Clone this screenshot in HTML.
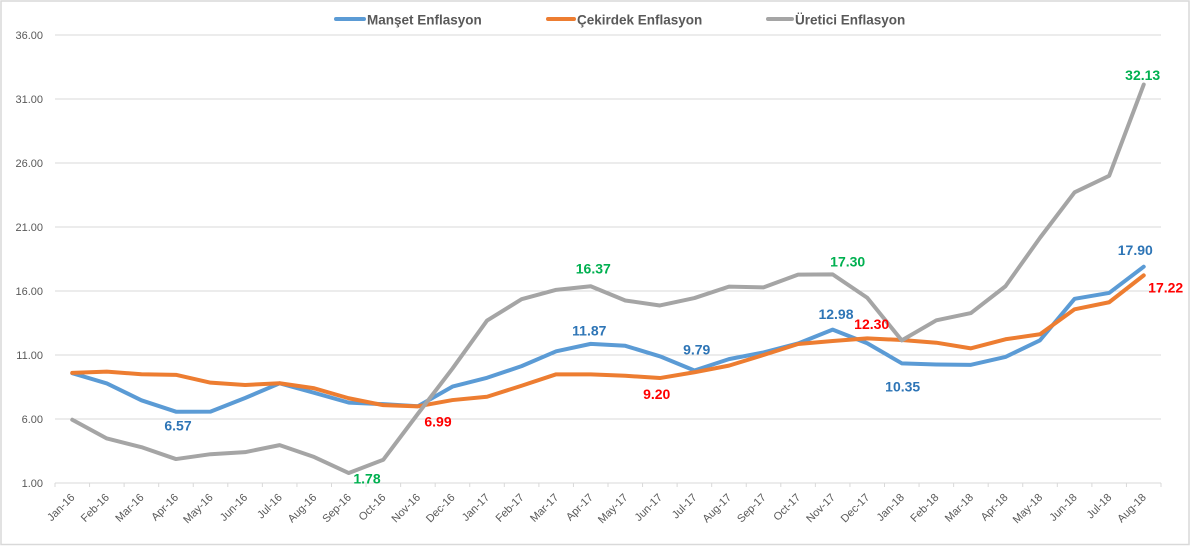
<!DOCTYPE html>
<html>
<head>
<meta charset="utf-8">
<style>
html,body{margin:0;padding:0;background:#fff;}
svg{display:block;}
text{font-family:"Liberation Sans",Arial,sans-serif;}
.ax{font-size:11px;fill:#595959;}
.lg{font-size:13.5px;font-weight:bold;fill:#595959;}
.dl{font-size:14px;font-weight:bold;text-anchor:middle;}
</style>
</head>
<body>
<svg width="1200" height="557" viewBox="0 0 1200 557" xmlns="http://www.w3.org/2000/svg">
<rect x="0" y="0" width="1200" height="557" fill="#fff"/>
<rect x="1" y="1" width="1188" height="543.5" fill="#fff" stroke="#d9d9d9" stroke-width="1.5"/>

<!-- gridlines -->
<g stroke="#d9d9d9" stroke-width="1">
<line x1="55" y1="35" x2="1161" y2="35"/>
<line x1="55" y1="99" x2="1161" y2="99"/>
<line x1="55" y1="163" x2="1161" y2="163"/>
<line x1="55" y1="227" x2="1161" y2="227"/>
<line x1="55" y1="291" x2="1161" y2="291"/>
<line x1="55" y1="355" x2="1161" y2="355"/>
<line x1="55" y1="419" x2="1161" y2="419"/>
<line x1="55" y1="483" x2="1161" y2="483"/>
</g>
<path stroke="#d9d9d9" stroke-width="1" fill="none" d="M55 483V487M89.56 483V487M124.13 483V487M158.69 483V487M193.25 483V487M227.81 483V487M262.38 483V487M296.94 483V487M331.5 483V487M366.06 483V487M400.63 483V487M435.19 483V487M469.75 483V487M504.31 483V487M538.88 483V487M573.44 483V487M608 483V487M642.56 483V487M677.13 483V487M711.69 483V487M746.25 483V487M780.81 483V487M815.38 483V487M849.94 483V487M884.5 483V487M919.06 483V487M953.63 483V487M988.19 483V487M1022.75 483V487M1057.31 483V487M1091.88 483V487M1126.44 483V487M1161 483V487"/>

<!-- y labels -->
<g class="ax" text-anchor="end">
<text x="43" y="39">36.00</text>
<text x="43" y="103">31.00</text>
<text x="43" y="167">26.00</text>
<text x="43" y="231">21.00</text>
<text x="43" y="295">16.00</text>
<text x="43" y="359">11.00</text>
<text x="43" y="423">6.00</text>
<text x="43" y="487">1.00</text>
</g>

<!-- x labels -->
<g class="ax" text-anchor="end">
<text transform="translate(75.28,498) rotate(-45)">Jan-16</text>
<text transform="translate(109.84,498) rotate(-45)">Feb-16</text>
<text transform="translate(144.41,498) rotate(-45)">Mar-16</text>
<text transform="translate(178.97,498) rotate(-45)">Apr-16</text>
<text transform="translate(213.53,498) rotate(-45)">May-16</text>
<text transform="translate(248.09,498) rotate(-45)">Jun-16</text>
<text transform="translate(282.66,498) rotate(-45)">Jul-16</text>
<text transform="translate(317.22,498) rotate(-45)">Aug-16</text>
<text transform="translate(351.78,498) rotate(-45)">Sep-16</text>
<text transform="translate(386.34,498) rotate(-45)">Oct-16</text>
<text transform="translate(420.91,498) rotate(-45)">Nov-16</text>
<text transform="translate(455.47,498) rotate(-45)">Dec-16</text>
<text transform="translate(490.03,498) rotate(-45)">Jan-17</text>
<text transform="translate(524.59,498) rotate(-45)">Feb-17</text>
<text transform="translate(559.16,498) rotate(-45)">Mar-17</text>
<text transform="translate(593.72,498) rotate(-45)">Apr-17</text>
<text transform="translate(628.28,498) rotate(-45)">May-17</text>
<text transform="translate(662.84,498) rotate(-45)">Jun-17</text>
<text transform="translate(697.41,498) rotate(-45)">Jul-17</text>
<text transform="translate(731.97,498) rotate(-45)">Aug-17</text>
<text transform="translate(766.53,498) rotate(-45)">Sep-17</text>
<text transform="translate(801.09,498) rotate(-45)">Oct-17</text>
<text transform="translate(835.66,498) rotate(-45)">Nov-17</text>
<text transform="translate(870.22,498) rotate(-45)">Dec-17</text>
<text transform="translate(904.78,498) rotate(-45)">Jan-18</text>
<text transform="translate(939.34,498) rotate(-45)">Feb-18</text>
<text transform="translate(973.91,498) rotate(-45)">Mar-18</text>
<text transform="translate(1008.47,498) rotate(-45)">Apr-18</text>
<text transform="translate(1043.03,498) rotate(-45)">May-18</text>
<text transform="translate(1077.59,498) rotate(-45)">Jun-18</text>
<text transform="translate(1112.16,498) rotate(-45)">Jul-18</text>
<text transform="translate(1146.72,498) rotate(-45)">Aug-18</text>
</g>

<!-- series -->
<g fill="none" stroke-width="4" stroke-linejoin="round" stroke-linecap="round">
<polyline stroke="#5b9bd5" points="72.28,373.18 106.84,383.42 141.41,400.31 175.97,411.7 210.53,411.58 245.09,398.01 279.66,383.29 314.22,392.76 348.78,402.62 383.34,404.15 417.91,406.2 452.47,386.62 487.03,377.78 521.59,366.14 556.16,351.29 590.72,343.86 625.28,345.78 659.84,356.28 694.41,370.49 728.97,359.1 763.53,352.44 798.09,343.48 832.66,329.66 867.22,343.22 901.78,363.32 936.34,364.47 970.91,364.86 1005.47,356.92 1040.03,340.28 1074.59,298.81 1109.16,292.92 1143.72,266.68"/>
<polyline stroke="#ed7d31" points="72.28,372.92 106.84,371.64 141.41,374.2 175.97,374.84 210.53,382.65 245.09,384.95 279.66,383.29 314.22,388.28 348.78,398.26 383.34,405.18 417.91,406.33 452.47,400.06 487.03,396.73 521.59,385.72 556.16,374.33 590.72,374.33 625.28,375.74 659.84,378.04 694.41,372.28 728.97,365.62 763.53,355 798.09,343.99 832.66,341.05 867.22,338.36 901.78,340.02 936.34,342.71 970.91,348.34 1005.47,339.26 1040.03,334.26 1074.59,309.3 1109.16,302.26 1143.72,275.38"/>
<polyline stroke="#a5a5a5" points="72.28,419.77 106.84,438.46 141.41,447.16 175.97,459.06 210.53,454.2 245.09,452.15 279.66,445.11 314.22,457.02 348.78,473.02 383.34,459.7 417.91,413.75 452.47,368.57 487.03,320.57 521.59,299.19 556.16,289.85 590.72,286.26 625.28,300.47 659.84,305.46 694.41,298.04 728.97,286.65 763.53,287.42 798.09,274.62 832.66,274.36 867.22,297.78 901.78,340.41 936.34,320.31 970.91,313.02 1005.47,286.26 1040.03,237.75 1074.59,192.31 1109.16,175.8 1143.72,84.54"/>
</g>

<!-- data labels -->
<g class="dl">
<text x="178" y="430.7" fill="#2e75b6">6.57</text>
<text x="367" y="483.3" fill="#00b050">1.78</text>
<text x="438" y="426.5" fill="#ff0000">6.99</text>
<text x="593.3" y="273.3" fill="#00b050">16.37</text>
<text x="589.3" y="335.7" fill="#2e75b6">11.87</text>
<text x="696.7" y="354.3" fill="#2e75b6">9.79</text>
<text x="656.7" y="399" fill="#ff0000">9.20</text>
<text x="836" y="319" fill="#2e75b6">12.98</text>
<text x="871.7" y="329" fill="#ff0000">12.30</text>
<text x="847.7" y="266.7" fill="#00b050">17.30</text>
<text x="902.7" y="391.7" fill="#2e75b6">10.35</text>
<text x="1142.7" y="80" fill="#00b050">32.13</text>
<text x="1135.3" y="255" fill="#2e75b6">17.90</text>
<text x="1165.7" y="292.7" fill="#ff0000">17.22</text>
</g>

<!-- legend -->
<g stroke-width="4" stroke-linecap="round">
<line x1="336" y1="19" x2="364" y2="19" stroke="#5b9bd5"/>
<line x1="548" y1="19" x2="574" y2="19" stroke="#ed7d31"/>
<line x1="768" y1="19" x2="792" y2="19" stroke="#a5a5a5"/>
</g>
<text class="lg" x="367" y="24.5">Manşet Enflasyon</text>
<text class="lg" x="577" y="24.5">Çekirdek Enflasyon</text>
<text class="lg" x="795" y="24.5">Üretici Enflasyon</text>
</svg>
</body>
</html>
